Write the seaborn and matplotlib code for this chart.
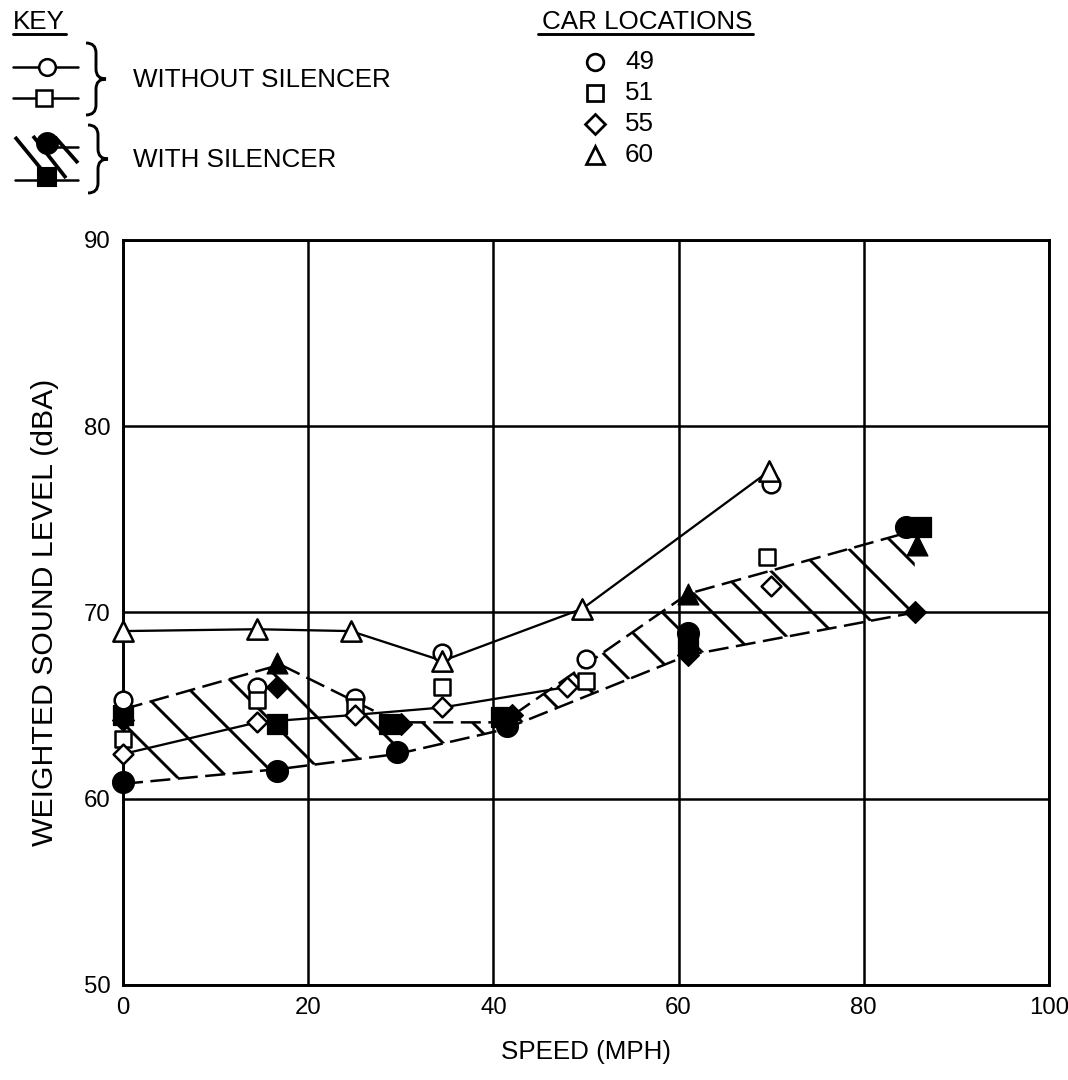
import numpy as np
import pandas as pd
import matplotlib
matplotlib.use("Agg")
import matplotlib.pyplot as plt
from matplotlib.path import Path
from matplotlib.patches import PathPatch
import seaborn as sns

# values: speed (mph) vs weighted sound level (dBA)
# without silencer (open symbols)
open_speed_49 = [0, 14.5, 25, 34.5, 50, 70]
open_level_49 = [65.3, 66.0, 65.4, 67.8, 67.5, 76.9]
open_speed_51 = [0, 14.5, 25, 34.5, 50, 69.6]
open_level_51 = [63.2, 65.3, 64.9, 66.0, 66.3, 73.0]
open_speed_55 = [0, 14.5, 25, 34.5, 48, 70]
open_level_55 = [62.4, 64.1, 64.5, 64.9, 66.0, 71.4]
open_speed_60 = [0, 14.5, 24.6, 34.5, 49.6, 69.8]
open_level_60 = [69.0, 69.1, 69.0, 67.4, 70.2, 77.6]

# with silencer (filled symbols)
filled_speed_49 = [0, 16.6, 29.6, 41.5, 61, 84.6]
filled_level_49 = [60.9, 61.5, 62.5, 63.9, 68.9, 74.6]
filled_speed_51 = [0, 16.6, 28.7, 40.8, 61, 86.2]
filled_level_51 = [64.5, 64.0, 64.0, 64.4, 68.2, 74.6]
filled_speed_55 = [0, 16.6, 30, 42, 61, 85.5]
filled_level_55 = [64.2, 66.0, 64.0, 64.5, 67.7, 70.0]
filled_speed_60 = [16.6, 61, 85.7]
filled_level_60 = [67.3, 71.0, 73.6]

# hatched envelope of the with-silencer readings
band_speed = [0, 17, 29.6, 41, 61, 85.5]
band_low = [60.8, 61.6, 62.4, 63.7, 67.7, 70.0]
band_high = [64.8, 67.2, 64.1, 64.1, 71.0, 74.4]

locations = ["49", "51", "55", "60"]
location_markers = {"49": "o", "51": "s", "55": "D", "60": "^"}

sns.set_style("white")
plt.rcParams["font.family"] = ["Liberation Sans", "DejaVu Sans"]
plt.rcParams["text.color"] = "black"
plt.rcParams["axes.labelcolor"] = "black"
plt.rcParams["hatch.linewidth"] = 1.4
plt.rcParams["hatch.color"] = "black"

fig = plt.figure(figsize=(7.12, 7.2), dpi=150)
ax = fig.add_axes([0.1152, 0.088, 0.867, 0.6898])

open_df = pd.DataFrame({
    "speed": open_speed_49 + open_speed_51 + open_speed_55 + open_speed_60,
    "level": open_level_49 + open_level_51 + open_level_55 + open_level_60,
    "loc": ["49"] * 6 + ["51"] * 6 + ["55"] * 6 + ["60"] * 6,
})
filled_df = pd.DataFrame({
    "speed": filled_speed_49 + filled_speed_51 + filled_speed_55 + filled_speed_60,
    "level": filled_level_49 + filled_level_51 + filled_level_55 + filled_level_60,
    "loc": ["49"] * 6 + ["51"] * 6 + ["55"] * 6 + ["60"] * 3,
})

# hatched band
ax.fill_between(band_speed, band_low, band_high, facecolor="none",
                edgecolor="black", hatch="\\", linewidth=0, zorder=2)
ax.plot(band_speed, band_low, color="black", lw=1.2, ls=(0, (8, 3)), zorder=2)
ax.plot(band_speed, band_high, color="black", lw=1.2, ls=(0, (8, 3)), zorder=2)

# solid lines (without silencer)
sns.lineplot(x=open_speed_60, y=open_level_60, color="black", lw=1.1,
             sort=False, estimator=None, ax=ax, zorder=3)
sns.lineplot(x=open_speed_55[:5], y=open_level_55[:5], color="black", lw=1.1,
             sort=False, estimator=None, ax=ax, zorder=3)

open_sizes = {"o": 72, "s": 60, "D": 45, "^": 95}
filled_sizes = {"o": 110, "s": 90, "D": 55, "^": 100}
for loc in locations:
    m = location_markers[loc]
    d = filled_df[filled_df["loc"] == loc]
    sns.scatterplot(data=d, x="speed", y="level", marker=m, s=filled_sizes[m],
                    color="black", edgecolor="black", linewidth=0.6,
                    zorder=5, clip_on=False, ax=ax)
for loc in locations:
    m = location_markers[loc]
    d = open_df[open_df["loc"] == loc]
    sns.scatterplot(data=d, x="speed", y="level", marker=m, s=open_sizes[m],
                    color="white", edgecolor="black", linewidth=1.2,
                    zorder=6, clip_on=False, ax=ax)

ax.set_xlim(0, 100)
ax.set_ylim(50, 90)
ax.set_xticks(range(0, 101, 20))
ax.set_yticks(range(50, 91, 10))
ax.grid(True, color="black", lw=1.2)
ax.set_axisbelow(True)
for s in ax.spines.values():
    s.set_color("black")
    s.set_linewidth(1.4)
ax.tick_params(length=0, labelsize=11.5, pad=6, colors="black")
ax.set_xlabel("SPEED (MPH)", fontsize=12.5, labelpad=10)
ax.set_ylabel("WEIGHTED SOUND LEVEL (dBA)", fontsize=14.5, labelpad=12)

# key and car-location legend, drawn in pixel space
key = fig.add_axes([0, 0, 1, 1])
key.set_xlim(0, 1068)
key.set_ylim(1080, 0)
key.set_axis_off()
key.patch.set_visible(False)


def brace(x0, y_top, y_bot, w):
    mid = (y_top + y_bot) / 2
    xm = x0 + w * 0.5
    r = 10
    verts = [(x0, y_top), (xm, y_top), (xm, y_top + r),
             (xm, mid - r), (xm, mid), (x0 + w, mid),
             (xm, mid), (xm, mid + r),
             (xm, y_bot - r), (xm, y_bot), (x0, y_bot)]
    codes = [Path.MOVETO, Path.CURVE3, Path.CURVE3,
             Path.LINETO, Path.CURVE3, Path.CURVE3,
             Path.CURVE3, Path.CURVE3,
             Path.LINETO, Path.CURVE3, Path.CURVE3]
    key.add_patch(PathPatch(Path(verts, codes), fill=False, lw=1.4, color="black"))


txt = 12.5
key.text(13, 22, "KEY", fontsize=txt, va="center", ha="left")
key.plot([13, 66], [34, 34], color="black", lw=1.4)
key.plot([13, 78], [67, 67], color="black", lw=1.2)
key.plot([47], [67], marker="o", ms=8, mfc="white", mec="black", mew=1.2)
key.plot([13, 78], [98, 98], color="black", lw=1.2)
key.plot([44], [98], marker="s", ms=7.5, mfc="white", mec="black", mew=1.2)
brace(86, 43, 115, 20)
key.text(133, 80, "WITHOUT SILENCER", fontsize=txt, va="center", ha="left")

for (xa, ya, xb, yb) in [(15, 137, 42, 170), (33, 136, 66, 178), (55, 137, 78, 163)]:
    key.plot([xa, xb], [ya, yb], color="black", lw=1.8, solid_capstyle="butt")
key.plot([47, 78], [147, 147], color="black", lw=1.2)
key.plot([15, 78], [180, 180], color="black", lw=1.2)
key.plot([47], [143], marker="o", ms=10, color="black")
key.plot([47], [177], marker="s", ms=8.5, color="black")
brace(88, 125, 193, 20)
key.text(133, 160, "WITH SILENCER", fontsize=txt, va="center", ha="left")

key.text(753, 22, "CAR LOCATIONS", fontsize=txt, va="center", ha="right")
key.plot([538, 753], [34, 34], color="black", lw=1.4)
legend_y = [62, 93, 124, 155]
legend_ms = {"o": 8, "s": 7.5, "D": 6.5, "^": 8.5}
for loc, yy in zip(locations, legend_y):
    m = location_markers[loc]
    key.plot([595], [yy], marker=m, ms=legend_ms[m], mfc="white", mec="black", mew=1.3)
    key.text(625, yy, loc, fontsize=txt, va="center", ha="left")

fig.savefig("out.png", dpi=150)
